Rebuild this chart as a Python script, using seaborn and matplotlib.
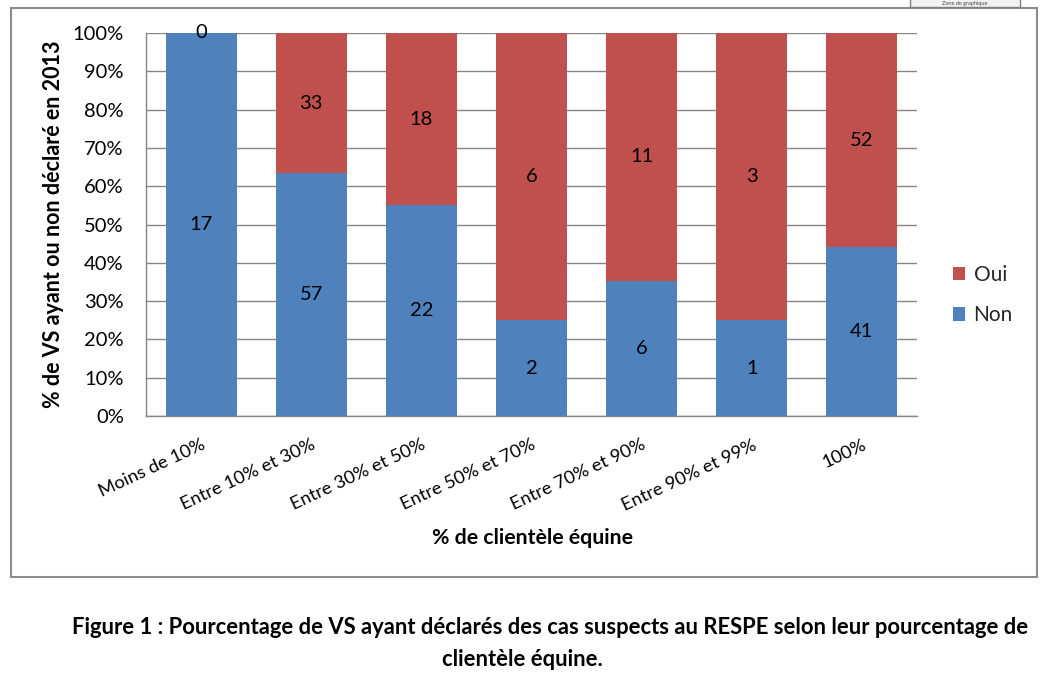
import matplotlib
matplotlib.use("Agg")
import matplotlib.pyplot as plt
import seaborn as sns
import pandas as pd
from matplotlib.patches import Rectangle, Patch

categories = ["Moins de 10%", "Entre 10% et 30%", "Entre 30% et 50%", "Entre 50% et 70%",
              "Entre 70% et 90%", "Entre 90% et 99%", "100%"]
non_counts = [17, 57, 22, 2, 6, 1, 41]
oui_counts = [0, 33, 18, 6, 11, 3, 52]
series_names = ["Oui", "Non"]
y_ticks = [0, 10, 20, 30, 40, 50, 60, 70, 80, 90, 100]

BLUE = "#4F81BD"
RED = "#C0504D"
GRID = "#868686"

df = pd.DataFrame({"cat": categories, "non": non_counts, "oui": oui_counts})
df["total_pct"] = 100.0
df["non_pct"] = df["non"] / (df["non"] + df["oui"]) * 100

sns.set_theme(style="white")
plt.rcParams["font.family"] = ["Lato", "DejaVu Sans"]

fig = plt.figure(figsize=(10.47, 6.81), dpi=100)
ax = fig.add_axes([146/1047, 1-416/681, 771/1047, 383/681])

sns.barplot(data=df, x="cat", y="total_pct", color=RED, width=0.645, ax=ax,
            saturation=1, zorder=3, linewidth=0, edgecolor="none")
sns.barplot(data=df, x="cat", y="non_pct", color=BLUE, width=0.645, ax=ax,
            saturation=1, zorder=3, linewidth=0, edgecolor="none")

n = len(categories)
red_patches = ax.patches[:n]
blue_patches = ax.patches[n:2*n]
for i in range(n):
    rp = red_patches[i]
    bp = blue_patches[i]
    xc = rp.get_x() + rp.get_width() / 2
    ax.text(xc, bp.get_height() / 2, str(non_counts[i]), ha="center", va="center",
            fontsize=14.5, color="black", zorder=5)
    ax.text(xc, (bp.get_height() + rp.get_height()) / 2, str(oui_counts[i]),
            ha="center", va="center", fontsize=14.5, color="black", zorder=5)

ax.set_ylim(0, 100)
ax.set_xlim(-0.5, n - 0.5)
ax.set_yticks(y_ticks)
ax.set_yticklabels([f"{t}%" for t in y_ticks])
ax.yaxis.grid(True, color=GRID, linewidth=1.0, zorder=0)
ax.set_axisbelow(True)
for s in ["top", "right"]:
    ax.spines[s].set_visible(False)
for s in ["left", "bottom"]:
    ax.spines[s].set_color(GRID)
    ax.spines[s].set_linewidth(1.0)

ax.tick_params(axis="y", length=0, pad=16, labelsize=14.5, labelcolor="black")
ax.tick_params(axis="x", length=0, pad=15, labelsize=13.2, labelcolor="black")
for lab in ax.get_xticklabels():
    lab.set_rotation(25)
    lab.set_ha("right")
    lab.set_va("top")
    lab.set_rotation_mode("anchor")

ax.set_xlabel("% de clientèle équine", fontsize=15.3, fontweight="bold", va="center",
              color="black")
ax.xaxis.set_label_coords((533-146)/771, (416-538)/383)
ax.set_ylabel("% de VS ayant ou non déclaré en 2013", fontsize=15.5, fontweight="bold",
              va="center", color="black")
ax.yaxis.set_label_coords((54-146)/771, 0.5)

handles = [Patch(facecolor=RED, edgecolor="none"), Patch(facecolor=BLUE, edgecolor="none")]
fig.legend(handles, series_names, loc="center left",
           bbox_to_anchor=(934/1047, 1-295/681), frameon=False, fontsize=15,
           handlelength=0.6, handleheight=0.6, handletextpad=0.4, labelspacing=1.0)

# chart area border
fig.patches.append(Rectangle((11/1047, 1-577/681), 1026/1047, 569/681,
                             transform=fig.transFigure, fill=False,
                             edgecolor="#8C8C8C", linewidth=1.5, zorder=10))
# tooltip remnant
fig.patches.append(Rectangle((910/1047, 1-7/681), 110/1047, 20/681,
                             transform=fig.transFigure, facecolor="#F2F2F2",
                             edgecolor="#7F7F7F", linewidth=1.0, zorder=11))
fig.text(965/1047, 1-3.5/681, "Zone de graphique", ha="center", va="center",
         fontsize=4, color="#444444", zorder=12)

fig.text(550/1047, 1-628/681,
         "Figure 1 : Pourcentage de VS ayant déclarés des cas suspects au RESPE selon leur pourcentage de",
         ha="center", va="center", fontsize=15.8, fontweight="bold", color="black")
fig.text(522/1047, 1-660/681, "clientèle équine.", ha="center", va="center",
         fontsize=15.8, fontweight="bold", color="black")

fig.savefig("out.png", dpi=100)
